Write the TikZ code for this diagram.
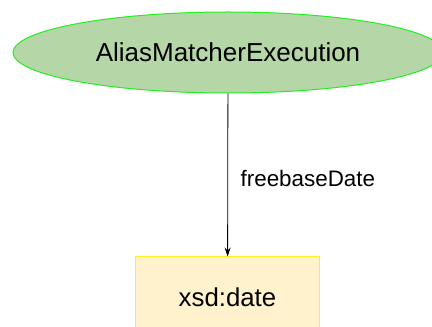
\documentclass[tikz,border=0pt]{standalone}
\usepackage{fontspec}
\setmainfont{Liberation Sans}
\usetikzlibrary{shapes.geometric,arrows.meta}
\definecolor{ellfill}{HTML}{B5D6A7}
\definecolor{elldraw}{HTML}{22EE22}
\definecolor{boxfill}{HTML}{FFF2CC}
\definecolor{boxdraw}{HTML}{FFEE22}
\tikzset{
  classnode/.style={ellipse, draw=elldraw, fill=ellfill, line width=1pt, minimum width=430pt, minimum height=81pt, inner sep=0pt, font=\fontsize{26}{30}\selectfont},
  literalnode/.style={rectangle, draw=boxdraw, fill=boxfill, line width=1pt, minimum width=184pt, minimum height=80pt, inner sep=0pt, font=\fontsize{25.8}{30}\selectfont},
  edgelabel/.style={font=\fontsize{22.4}{26}\selectfont, inner sep=0pt},
  conn/.style={draw=black, line width=0.8pt, -{Stealth[length=9pt,width=6pt]}}
}
\begin{document}
\begin{tikzpicture}[x=1pt,y=1pt]
\useasboundingbox (0,0) rectangle (432,327);
\node[classnode] (a) at (228,274.5) {AliasMatcherExecution};
\node[literalnode] (b) at (227.5,30) {xsd:date};
\draw[conn] (a) -- (b) node[midway, right=12.5pt, edgelabel, yshift=-3pt] {freebaseDate};
\end{tikzpicture}
\end{document}
